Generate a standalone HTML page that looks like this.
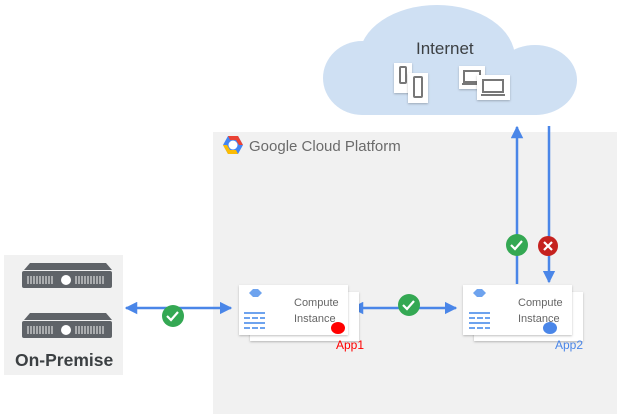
<!DOCTYPE html>
<html><head><meta charset="utf-8"><style>
html,body{margin:0;padding:0;background:#fff;width:623px;height:420px;overflow:hidden}
svg{display:block;font-family:"Liberation Sans",sans-serif}
</style></head><body>
<svg width="623" height="420" viewBox="0 0 623 420">
<defs>
<filter id="sh" x="-10%" y="-10%" width="130%" height="140%"><feDropShadow dx="0" dy="1" stdDeviation="1" flood-color="#000" flood-opacity="0.25"/></filter>
<marker id="ah" viewBox="0 0 10 10" refX="9" refY="5" markerWidth="5" markerHeight="5" orient="auto-start-reverse"><path d="M0,0 L10,5 L0,10 z" fill="#4a86e8"/></marker>
</defs>
<rect x="213" y="132" width="404" height="282" fill="#f1f1f1"/>
<g transform="translate(223,136)">
<path d="M5,0 L15,0 L20,9 L15,18 L5,18 L0,9 z" fill="#4285f4"/>
<path d="M5,0 L15,0 L20,9 L16,9 L13,4 L7,4 z" fill="#ea4335"/>
<path d="M0,9 L5,18 L15,18 L13,14 L7,14 L4,9 z" fill="#fbbc05"/>
<circle cx="10" cy="9" r="4.5" fill="#fff"/>
</g>
<text x="249" y="151" font-size="15" fill="#6b6b6b">Google Cloud Platform</text>
<g fill="#cfe0f3">
<ellipse cx="362" cy="78" rx="39" ry="37"/>
<ellipse cx="437" cy="58" rx="78" ry="53"/>
<ellipse cx="535" cy="80" rx="42" ry="35"/>
<rect x="362" y="75" width="175" height="40"/>
</g>
<text x="416" y="54" font-size="17" fill="#3c4043">Internet</text>
<g>
<rect x="394" y="63" width="18" height="30" fill="#fff" filter="url(#sh)"/>
<rect x="400" y="67" width="6" height="16" fill="none" stroke="#777" stroke-width="2" rx="1"/>
<rect x="408" y="73" width="20" height="30" fill="#fff" filter="url(#sh)"/>
<rect x="414" y="77" width="8" height="20" fill="none" stroke="#777" stroke-width="2" rx="1"/>
<rect x="459" y="66" width="26" height="23" fill="#fff" filter="url(#sh)"/>
<path d="M464,71 h16 v11 h-16 z M462,84 h20" fill="none" stroke="#777" stroke-width="2"/>
<rect x="477" y="75" width="33" height="25" fill="#fff" filter="url(#sh)"/>
<path d="M483,80 h20 v12 h-20 z M481,95 h24" fill="none" stroke="#777" stroke-width="2"/>
</g>
<line x1="517" y1="284" x2="517" y2="127" stroke="#4a86e8" stroke-width="2.5" marker-end="url(#ah)"/>
<line x1="549" y1="126" x2="549" y2="282" stroke="#4a86e8" stroke-width="2.5" marker-end="url(#ah)"/>
<circle cx="517" cy="245" r="11" fill="#34a853"/>
<path d="M511,245 l4,4 l7,-8" fill="none" stroke="#fff" stroke-width="2.2"/>
<circle cx="548" cy="246" r="10" fill="#c5221f"/>
<path d="M544,242 l8,8 M552,242 l-8,8" stroke="#fff" stroke-width="2.2"/>
<line x1="126" y1="308" x2="231" y2="308" stroke="#4a86e8" stroke-width="2.5" marker-start="url(#ah)" marker-end="url(#ah)"/>
<circle cx="173" cy="316" r="11" fill="#34a853"/>
<path d="M167,316 l4,4 l7,-8" fill="none" stroke="#fff" stroke-width="2.2"/>
<line x1="352" y1="308" x2="456" y2="308" stroke="#4a86e8" stroke-width="2.5" marker-start="url(#ah)" marker-end="url(#ah)"/>
<circle cx="409" cy="305" r="11" fill="#34a853"/>
<path d="M403,305 l4,4 l7,-8" fill="none" stroke="#fff" stroke-width="2.2"/>
<g>
<rect x="250" y="292" width="109" height="49" fill="#fff" filter="url(#sh)"/>
<rect x="239" y="285" width="109" height="50" fill="#fff" filter="url(#sh)"/>
<path d="M249,293 l4,-4 h5 l4,4 l-4,4 h-5 z" fill="#6ea3ee"/>
<g stroke="#6ea3ee" stroke-width="2"><line x1="244" y1="313" x2="265" y2="313"/><line x1="244" y1="318" x2="265" y2="318" stroke-dasharray="6 2"/><line x1="244" y1="323" x2="265" y2="323"/><line x1="244" y1="328" x2="265" y2="328" stroke-dasharray="6 2"/></g>
<text x="294" y="306" font-size="11" fill="#666">Compute</text>
<text x="294" y="322" font-size="11" fill="#666">Instance</text>
<ellipse cx="338" cy="328" rx="7" ry="6" fill="#ff0000"/>
<text x="336" y="349" font-size="12" fill="#ff0000">App1</text>
</g>
<g>
<rect x="474" y="292" width="109" height="49" fill="#fff" filter="url(#sh)"/>
<rect x="463" y="285" width="109" height="50" fill="#fff" filter="url(#sh)"/>
<path d="M473,293 l4,-4 h5 l4,4 l-4,4 h-5 z" fill="#6ea3ee"/>
<g stroke="#6ea3ee" stroke-width="2"><line x1="469" y1="313" x2="490" y2="313"/><line x1="469" y1="318" x2="490" y2="318" stroke-dasharray="6 2"/><line x1="469" y1="323" x2="490" y2="323"/><line x1="469" y1="328" x2="490" y2="328" stroke-dasharray="6 2"/></g>
<text x="518" y="306" font-size="11" fill="#666">Compute</text>
<text x="518" y="322" font-size="11" fill="#666">Instance</text>
<ellipse cx="550" cy="328" rx="7" ry="6" fill="#4a86e8"/>
<text x="555" y="349" font-size="12" fill="#4a86e8">App2</text>
</g>
<rect x="4" y="255" width="119" height="120" fill="#f1f1f1"/>
<g fill="#5f6368">
<path d="M30,263 h76 l6,7 h-88 z"/><rect x="22" y="271" width="90" height="17" rx="2"/>
<path d="M30,313 h76 l6,7 h-88 z"/><rect x="22" y="321" width="90" height="17" rx="2"/>
</g>
<g stroke="#ddd" stroke-width="1.2">
<path d="M28,276 v8 M31,276 v8 M34,276 v8 M37,276 v8 M40,276 v8 M43,276 v8 M46,276 v8 M49,276 v8 M52,276 v8 M76,276 v8 M79,276 v8 M82,276 v8 M85,276 v8 M88,276 v8 M91,276 v8 M94,276 v8 M97,276 v8 M100,276 v8 M103,276 v8"/>
<path d="M28,326 v8 M31,326 v8 M34,326 v8 M37,326 v8 M40,326 v8 M43,326 v8 M46,326 v8 M49,326 v8 M52,326 v8 M76,326 v8 M79,326 v8 M82,326 v8 M85,326 v8 M88,326 v8 M91,326 v8 M94,326 v8 M97,326 v8 M100,326 v8 M103,326 v8"/>
</g>
<circle cx="66" cy="280" r="5" fill="#fff"/><circle cx="66" cy="330" r="5" fill="#fff"/>
<text x="15" y="366" font-size="17.5" font-weight="bold" fill="#3c4043">On-Premise</text>
</svg>
</body></html>
